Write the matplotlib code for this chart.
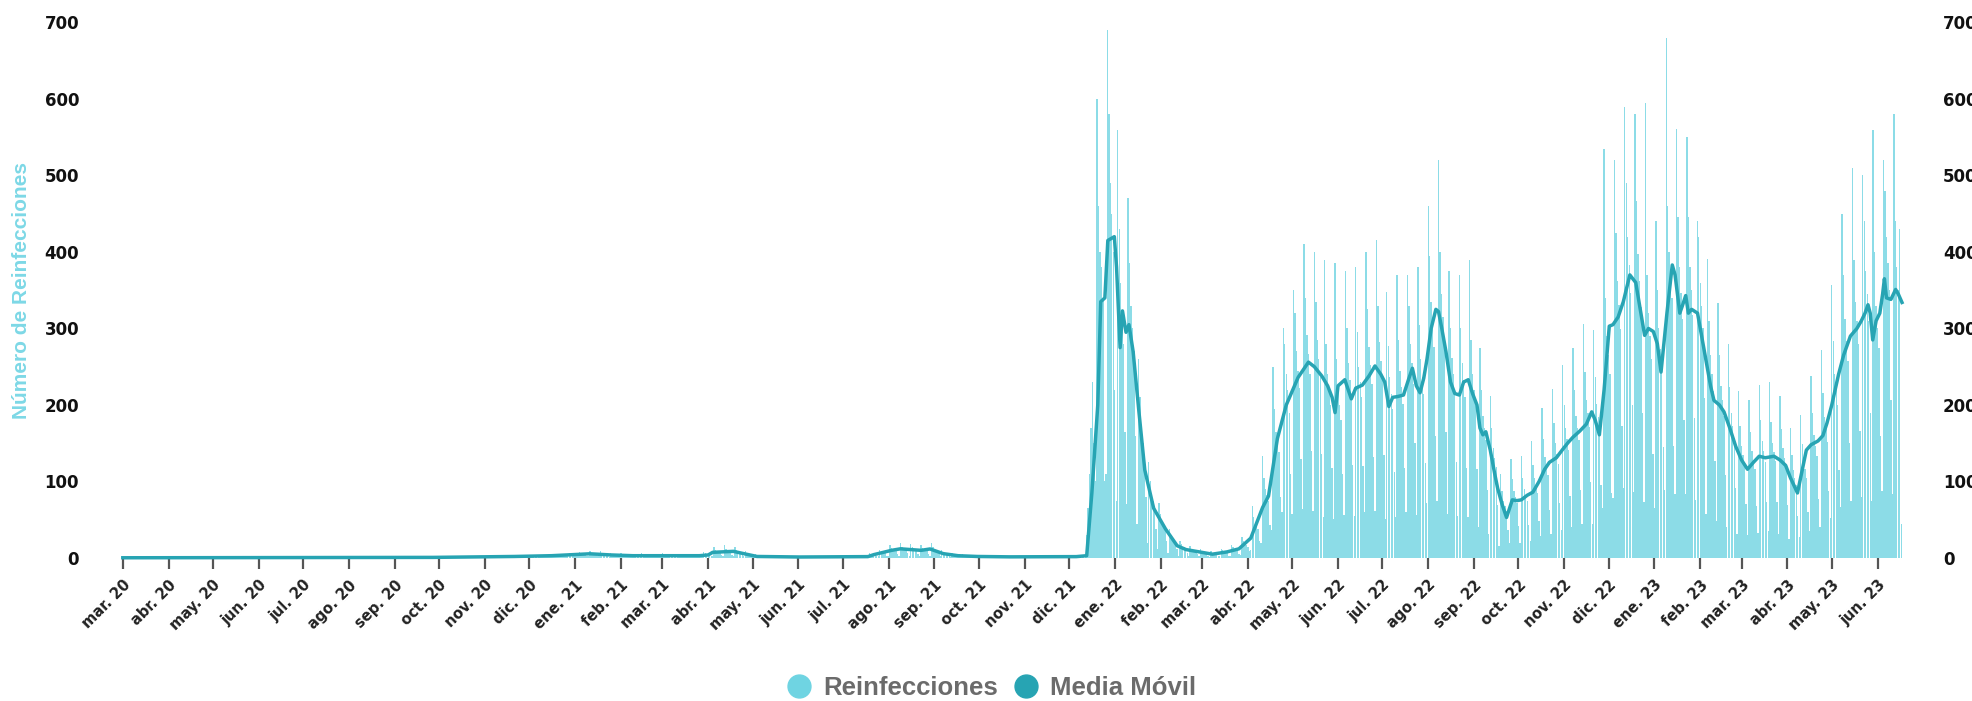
import numpy as np
import pandas as pd
import matplotlib.pyplot as plt
import matplotlib.dates as mdates
from matplotlib.lines import Line2D

start = '2020-03-01'

# reinfecciones diarias desde 01-03-2020, una fila por semana (dom..sab)
reinf_a = [
    0,0,0,0,0,0,0, 0,0,0,0,1,0,0, 0,1,0,0,0,0,0, 0,0,1,0,0,1,0,
    0,1,0,0,1,0,0, 0,0,1,1,0,0,0, 0,1,0,1,0,1,0, 0,1,1,0,0,1,0,
    0,0,1,0,1,0,0, 0,1,0,1,1,0,0, 0,1,1,0,1,0,0, 0,0,1,1,0,1,0,
    0,1,0,1,0,1,0, 0,1,1,0,1,0,0, 0,1,0,1,1,0,0, 0,0,1,0,1,1,0,
    0,1,0,1,0,1,0, 0,1,1,0,1,0,0, 0,1,0,1,0,0,0, 0,1,1,0,1,1,0,
    0,0,1,1,0,1,0, 0,1,0,1,1,0,0, 0,1,1,0,1,0,0, 0,1,0,1,0,1,0,
    0,1,1,1,0,1,0, 0,1,0,1,1,0,1, 0,1,1,0,1,1,0, 0,1,1,1,0,1,0,
    0,1,0,1,1,1,0, 0,1,1,1,1,0,1, 0,1,1,1,1,1,0, 0,2,1,1,1,1,0,
    0,2,1,2,1,1,0, 1,2,2,1,1,1,0, 0,2,1,2,2,1,1, 1,2,2,1,2,1,0,
    1,3,2,2,1,2,1, 1,3,2,2,2,1,1, 1,3,3,2,2,2,1, 1,4,3,2,3,2,1,
    1,4,3,3,2,3,1, 1,5,4,3,3,2,1, 2,5,4,4,3,3,2, 2,7,5,4,4,3,2,
    2,8,6,5,5,4,2, 2,9,7,6,6,5,3, 2,9,6,5,5,4,2, 1,7,5,4,4,3,2,
    1,6,4,4,3,3,2, 1,5,4,3,3,3,1, 1,6,4,3,3,2,2, 1,5,4,4,3,3,1,
    1,6,4,3,3,3,1, 1,5,4,3,3,2,1, 1,5,3,3,3,2,1, 1,5,4,3,3,2,1,
    2,8,6,5,4,4,2, 3,15,11,9,8,7,4, 3,17,12,9,9,8,4, 3,14,10,8,8,7,4,
    2,9,7,6,5,5,2, 1,5,3,3,2,2,1, 0,3,2,2,2,1,1, 0,3,2,1,2,1,0,
    0,2,2,1,1,1,0, 0,2,2,1,1,1,0, 0,3,2,1,1,1,0, 0,2,1,2,1,1,0,
    0,3,2,1,1,1,1, 0,3,2,2,1,1,0, 0,3,2,2,2,1,1, 1,4,3,2,2,2,1,
    1,6,5,4,3,3,2, 2,11,8,7,6,6,3, 3,17,13,11,10,9,5, 3,20,15,13,12,11,6,
    3,18,14,12,11,10,5, 3,17,13,11,10,9,5, 3,19,15,12,11,10,6, 2,11,8,7,6,6,3,
    1,7,5,4,4,3,2, 1,5,4,3,3,2,1, 0,4,3,2,2,2,1, 0,3,2,2,2,1,1,
    0,3,2,2,2,1,0, 0,3,2,1,2,1,0, 0,3,2,2,1,1,0, 0,3,2,1,1,1,0,
    0,2,2,1,2,1,0, 0,3,2,2,1,1,1, 0,3,2,2,2,1,0, 0,2,2,2,1,2,1,
    0,3,2,2,2,2,1,
]

# desde 12-12-2021
reinf_b = [
    3,30,65,110,170,230,150,
    100,600,460,400,380,340,100,
    110,690,580,490,450,400,220,
    75,560,430,360,320,280,165,
    70,470,385,330,300,270,160,
    45,260,210,170,150,130,80,
    20,125,100,82,75,68,38,
    12,72,58,48,44,40,22,
    6,38,30,25,23,21,12,
    3,22,18,15,14,12,7,
    2,16,12,10,9,9,5,
    2,12,9,8,8,7,3,
    1,9,7,6,5,5,2,
    2,12,10,8,7,7,3,
    3,17,14,11,10,10,5,
    4,27,22,18,17,15,9,
    10,68,54,46,42,38,22,
    20,133,105,90,82,74,43,
    36,250,195,165,152,138,80,
    60,300,280,240,220,190,110,
    58,350,320,270,245,222,129,
    64,410,340,292,267,241,140,
    62,400,335,285,260,236,136,
    54,390,280,240,220,200,118,
    51,385,260,220,200,180,110,
    56,375,300,255,233,211,122,
    55,380,295,250,230,210,120,
    60,400,325,276,252,228,132,
    61,415,330,282,257,233,135,
    51,348,277,236,215,195,113,
    53,370,285,244,223,201,117,
    60,370,330,280,255,228,150,
    56,380,305,260,236,214,124,
    72,460,395,335,305,276,160,
    75,520,400,345,315,285,165,
    58,375,300,262,240,215,125,
    55,370,300,255,232,210,118,
    54,390,285,240,220,200,116,
    40,275,220,186,170,154,89,
    31,212,170,144,131,119,69,
    16,110,88,75,68,62,36,
    19,130,103,87,80,72,42,
    20,133,105,90,82,74,43,
    22,153,122,104,95,85,49,
    29,196,155,132,121,109,63,
    32,221,176,150,136,123,72,
    37,252,200,170,155,141,81,
    40,275,219,186,170,154,89,
    45,306,243,207,189,171,99,
    44,298,236,201,184,166,96,
    65,535,340,290,265,240,85,
    79,520,425,362,331,299,173,
    91,590,490,420,383,347,200,
    86,580,466,397,362,328,190,
    73,595,370,320,290,260,136,
    65,440,350,300,273,247,145,
    89,680,460,400,370,340,146,
    83,561,446,380,346,313,181,
    83,550,446,380,350,318,183,
    76,440,420,360,330,300,209,
    58,391,310,265,241,218,127,
    49,333,265,225,206,186,108,
    41,280,223,190,173,157,91,
    32,218,173,147,134,122,70,
    30,207,165,140,128,116,68,
    33,226,180,153,140,126,73,
    35,230,178,150,138,127,73,
    31,212,169,144,131,119,69,
    25,170,135,115,105,95,55,
    27,187,149,127,116,104,60,
    35,238,189,161,147,133,77,
    40,272,216,184,168,152,88,
    52,357,284,241,221,200,115,
    67,450,370,312,284,257,150,
    74,510,390,335,310,280,166,
    80,500,440,375,345,310,190,
    75,560,400,330,300,275,160,
    88,520,480,420,385,350,207,
    84,580,440,380,350,430,45,
]

# media movil: dias desde 01-03-2020 y valor
ma_day = [0, 100, 210, 240, 265, 290, 300, 316, 330, 345, 390, 396, 399, 413, 420, 429,
          458, 504, 508, 520, 526, 540, 546, 555, 565, 578, 600, 645,
          652, 655.5, 659.5, 661.5, 664.3, 666.3, 670.7, 672.2, 674.6, 676.2, 678.6, 680.6,
          683.4, 687.4, 691.3, 697.3, 705.3, 713.2, 719.2, 731, 737, 747, 755, 763, 771,
          775, 781, 787, 795, 802, 806, 811, 815, 818, 820, 822, 826.6, 831, 834, 838.5,
          843, 847, 851, 853.6, 856.4, 859, 862.3, 866.3, 870, 872.3, 875, 877.5, 880,
          882.2, 885, 888.2, 890, 892.2, 895, 898.1, 901, 904.1, 907, 910.1, 913, 916,
          918, 920, 922, 925, 928, 930, 933, 936, 939.9, 943, 946, 950, 953.8, 958, 961.8,
          965, 969.7, 974, 977.7, 981, 985.6, 990, 993.6, 996, 998.8, 1002, 1005.5, 1008,
          1011.5, 1015, 1019.4, 1023.4, 1026, 1029.4, 1032, 1035.3, 1038, 1040.5, 1044.5,
          1048.1, 1050, 1053.2, 1055, 1057.2, 1059, 1061.2, 1065.2, 1068, 1071.1, 1074,
          1076.3, 1080, 1083.1, 1087, 1091, 1095, 1099, 1103, 1106.9, 1111, 1116.9, 1121,
          1124.8, 1128, 1132.8, 1136, 1138.8, 1142, 1146.7, 1150, 1152.7, 1156, 1160.6,
          1164, 1168.6, 1173, 1176, 1178.5, 1180.5, 1182, 1183.7, 1186, 1188.5, 1190.4,
          1191.6, 1193, 1196, 1199.2, 1201, 1203.5]
ma_val = [0.3, 0.5, 0.8, 1.5, 2, 3, 4, 5.5, 4, 3, 3, 4, 7.4, 8.7, 5.7, 2,
          1.3, 1.8, 4.4, 10, 12, 10, 11.8, 5.7, 3, 2, 1.5, 1.8,
          3, 85, 200, 335, 340, 415, 420, 380, 275, 323, 295, 305,
          270, 190, 115, 65, 38, 16, 11, 7, 5, 8, 12, 26, 66,
          81, 156, 200, 236, 256, 250, 238, 225, 210, 190, 225, 233, 208, 222, 226,
          238, 251, 240, 230, 198, 210, 211, 213, 235, 248, 225, 216, 235,
          260, 300, 325, 322, 300, 270, 230, 215, 213, 230, 233, 215, 200,
          170, 161, 165, 141, 110, 91, 70, 53, 76, 75, 76, 82, 86, 100, 116,
          125, 131, 142, 151, 158, 166, 175, 191, 180, 161, 220, 303, 305,
          315, 335, 370, 360, 330, 291, 300, 296, 280, 243, 320,
          383, 370, 320, 330, 343, 320, 325, 320, 290, 256, 225,
          206, 200, 191, 170, 146, 128, 116, 125, 133, 131, 133, 128,
          121, 105, 85, 115, 141, 148, 153, 160, 176, 200, 240,
          265, 290, 300, 310, 320, 331, 320, 285, 310, 320, 345,
          365, 340, 338, 351, 345, 334]

meses = ['ene.', 'feb.', 'mar.', 'abr.', 'may.', 'jun.', 'jul.', 'ago.', 'sep.', 'oct.', 'nov.', 'dic.']

c_bar = '#6fd4e2'
c_line = '#27a4b3'

reinf = np.array(reinf_a + reinf_b)
t0 = mdates.datestr2num(start)
x_bar = t0 + np.arange(len(reinf))
x_ma = t0 + np.array(ma_day)

fig = plt.figure(figsize=(19.72, 7.01), dpi=100)
ax = fig.add_axes([0.0619, 0.204, 0.9026, 0.764])

ax.bar(x_bar, reinf, width=0.92, color=c_bar, alpha=0.8, linewidth=0)
ax.plot(x_ma, ma_val, color=c_line, lw=2.5, clip_on=False, zorder=3)

ax.set_xlim(t0 - 0.5, t0 + len(reinf) - 0.5)
ax.set_ylim(0, 700)
ax.set_yticks(range(0, 800, 100))

meses_t = pd.date_range('2020-03-01', '2023-06-01', freq='MS')
ax.set_xticks(mdates.date2num(meses_t.to_pydatetime()))
ax.set_xticklabels([f"{meses[t.month - 1]} {t.strftime('%y')}" for t in meses_t],
                   rotation=45, ha='right', va='top', rotation_mode='anchor',
                   fontsize=10.5, fontweight='bold', color='#222222')
ax.tick_params(axis='x', length=8, width=1.6, color='#555555', pad=6)
ax.tick_params(axis='y', length=0, pad=31, labelsize=12, labelcolor='#111111')
for lb in ax.get_yticklabels():
    lb.set_fontweight('bold')
for s in ax.spines.values():
    s.set_visible(False)

ax.set_ylabel('Número de Reinfecciones', fontsize=15, fontweight='bold',
              color='#7dd8e6', family='Liberation Sans')
ax.yaxis.set_label_coords(-0.051, 0.5)

ax2 = ax.twinx()
ax2.set_ylim(0, 700)
ax2.set_yticks(range(0, 800, 100))
ax2.tick_params(axis='y', length=0, pad=29.5, labelsize=12, labelcolor='#111111')
for lb in ax2.get_yticklabels():
    lb.set_fontweight('bold')
for s in ax2.spines.values():
    s.set_visible(False)

handles = [Line2D([], [], ls='none', marker='o', ms=16.5, color=c_bar, label='Reinfecciones'),
           Line2D([], [], ls='none', marker='o', ms=16.5, color=c_line, label='Media Móvil')]
fig.legend(handles=handles, loc='center', bbox_to_anchor=(0.503, 0.0185), ncol=2,
           frameon=False, borderpad=0, handlelength=0.9, handletextpad=0.48,
           columnspacing=0.67, prop={'family': 'Liberation Sans', 'weight': 'bold', 'size': 18.5},
           labelcolor='#6b6b6b')

fig.savefig('out.png', dpi=100)
